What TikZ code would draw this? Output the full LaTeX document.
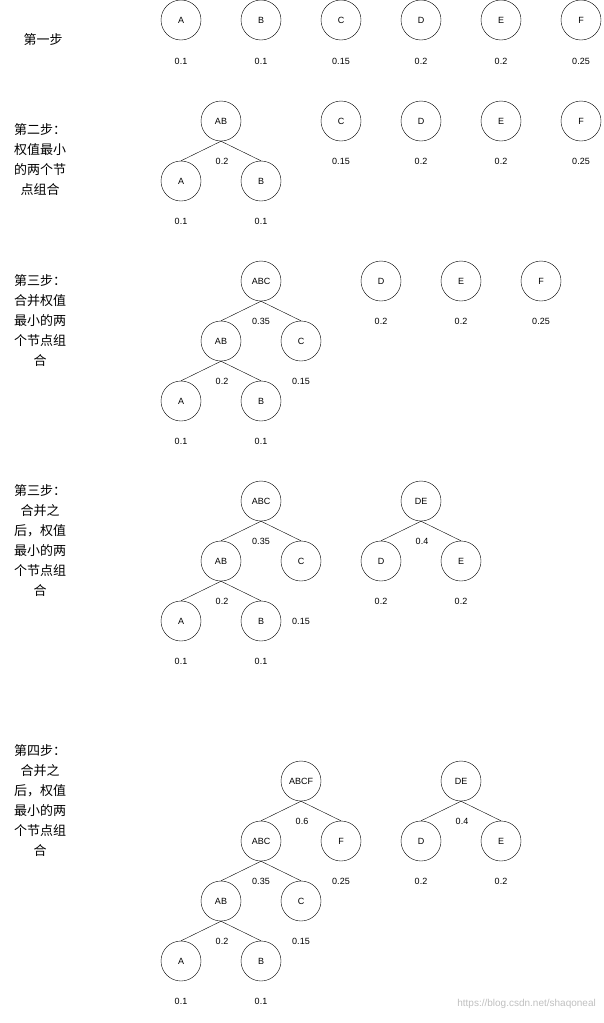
\documentclass[tikz,border=0pt]{standalone}
\usepackage{fontspec}
\setmainfont{Liberation Sans}
\newfontfamily\cjk{Noto Sans CJK SC}
\begin{document}
\begin{tikzpicture}[x=1pt,y=-1pt,
  nd/.style={circle,draw,minimum size=40pt,inner sep=0pt,font=\fontsize{9}{10}\selectfont},
  wt/.style={font=\fontsize{9}{10}\selectfont,inner sep=0pt},
  lbl/.style={font=\cjk\fontsize{13}{20}\selectfont,align=center,inner sep=0pt},
  ed/.style={draw}]
\useasboundingbox (0,0) rectangle (603,1023);
% row 1
\node[lbl] (t1) at (43,40) {第一步};
\foreach \n/\x/\w in {A/181/0.1,B/261/0.1,C/341/0.15,D/421/0.2,E/501/0.2,F/581/0.25}{
  \node[nd] (r1\n) at (\x,20) {\n};
  \node[wt] (r1w\n) at (\x,61) {\w};
}
% row 2
\node[lbl] (t2) at (40,160) {第二步：\\权值最小\\的两个节\\点组合};
\node[nd] (r2AB) at (221,121) {AB};
\node[nd] (r2A) at (181,181) {A};
\node[nd] (r2B) at (261,181) {B};
\draw (r2AB.south) -- (r2A.north); \draw (r2AB.south) -- (r2B.north);
\node[wt] (r2wAB) at (222,161) {0.2};
\node[wt] (r2wA) at (181,221) {0.1};
\node[wt] (r2wB) at (261,221) {0.1};
\foreach \n/\x/\w in {C/341/0.15,D/421/0.2,E/501/0.2,F/581/0.25}{
  \node[nd] (r2\n) at (\x,121) {\n};
  \node[wt] (r2w\n) at (\x,161) {\w};
}
% row 3
\node[lbl] (t3) at (40,321) {第三步：\\合并权值\\最小的两\\个节点组\\合};
\node[nd] (r3ABC) at (261,281) {ABC};
\node[nd] (r3AB) at (221,341) {AB};
\node[nd] (r3C) at (301,341) {C};
\node[nd] (r3A) at (181,401) {A};
\node[nd] (r3B) at (261,401) {B};
\draw (r3ABC.south) -- (r3AB.north); \draw (r3ABC.south) -- (r3C.north);
\draw (r3AB.south) -- (r3A.north); \draw (r3AB.south) -- (r3B.north);
\node[wt] (r3wABC) at (261,321) {0.35};
\node[wt] (r3wAB) at (222,381) {0.2};
\node[wt] (r3wC) at (301,381) {0.15};
\node[wt] (r3wA) at (181,441) {0.1};
\node[wt] (r3wB) at (261,441) {0.1};
\foreach \n/\x/\w in {D/381/0.2,E/461/0.2,F/541/0.25}{
  \node[nd] (r3\n) at (\x,281) {\n};
  \node[wt] (r3w\n) at (\x,321) {\w};
}
% row 4
\node[lbl] (t4) at (40,541) {第三步：\\合并之\\后，权值\\最小的两\\个节点组\\合};
\node[nd] (r4ABC) at (261,501) {ABC};
\node[nd] (r4AB) at (221,561) {AB};
\node[nd] (r4C) at (301,561) {C};
\node[nd] (r4A) at (181,621) {A};
\node[nd] (r4B) at (261,621) {B};
\draw (r4ABC.south) -- (r4AB.north); \draw (r4ABC.south) -- (r4C.north);
\draw (r4AB.south) -- (r4A.north); \draw (r4AB.south) -- (r4B.north);
\node[wt] (r4wABC) at (261,541) {0.35};
\node[wt] (r4wAB) at (222,601) {0.2};
\node[wt] (r4wC) at (301,621) {0.15};
\node[wt] (r4wA) at (181,661) {0.1};
\node[wt] (r4wB) at (261,661) {0.1};
\node[nd] (r4DE) at (421,501) {DE};
\node[nd] (r4D) at (381,561) {D};
\node[nd] (r4E) at (461,561) {E};
\draw (r4DE.south) -- (r4D.north); \draw (r4DE.south) -- (r4E.north);
\node[wt] (r4wDE) at (422,541) {0.4};
\node[wt] (r4wD) at (381,601) {0.2};
\node[wt] (r4wE) at (461,601) {0.2};
% row 5
\node[lbl] (t5) at (40,801) {第四步：\\合并之\\后，权值\\最小的两\\个节点组\\合};
\node[nd] (r5ABCF) at (301,781) {ABCF};
\node[nd] (r5ABC) at (261,841) {ABC};
\node[nd] (r5F) at (341,841) {F};
\node[nd] (r5AB) at (221,901) {AB};
\node[nd] (r5C) at (301,901) {C};
\node[nd] (r5A) at (181,961) {A};
\node[nd] (r5B) at (261,961) {B};
\draw (r5ABCF.south) -- (r5ABC.north); \draw (r5ABCF.south) -- (r5F.north);
\draw (r5ABC.south) -- (r5AB.north); \draw (r5ABC.south) -- (r5C.north);
\draw (r5AB.south) -- (r5A.north); \draw (r5AB.south) -- (r5B.north);
\node[wt] (r5wABCF) at (302,821) {0.6};
\node[wt] (r5wF) at (341,881) {0.25};
\node[wt] (r5wABC) at (261,881) {0.35};
\node[wt] (r5wAB) at (222,941) {0.2};
\node[wt] (r5wC) at (301,941) {0.15};
\node[wt] (r5wA) at (181,1001) {0.1};
\node[wt] (r5wB) at (261,1001) {0.1};
\node[nd] (r5DE) at (461,781) {DE};
\node[nd] (r5D) at (421,841) {D};
\node[nd] (r5E) at (501,841) {E};
\draw (r5DE.south) -- (r5D.north); \draw (r5DE.south) -- (r5E.north);
\node[wt] (r5wDE) at (462,821) {0.4};
\node[wt] (r5wD) at (421,881) {0.2};
\node[wt] (r5wE) at (501,881) {0.2};
\node[font=\fontsize{10}{12}\selectfont,text=black!25,inner sep=0pt,anchor=east] (wm) at (596,1004) {https://blog.csdn.net/shaqoneal};
\end{tikzpicture}
\end{document}
